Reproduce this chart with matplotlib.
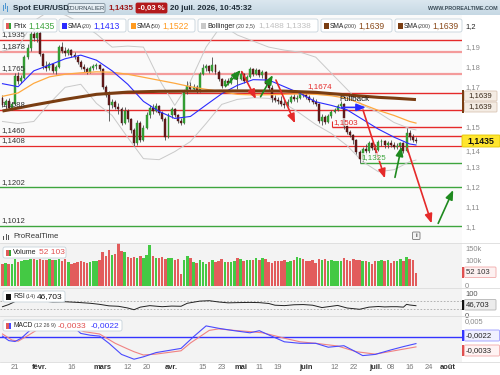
import numpy as np
import pandas as pd
import matplotlib
matplotlib.use("Agg")
import matplotlib.pyplot as plt
from matplotlib.patches import FancyBboxPatch, Rectangle

plt.rcParams['font.family'] = ['Liberation Sans', 'DejaVu Sans']

W, H = 500, 375

# --- daily candles, 15 janv. -> 20 juil. 2026 (session -4 = 15 janv., 0 = 21 janv.) ---
first_session = -4
opens = [1.1645, 1.1612, 1.1630, 1.1598, 1.1615, 1.1755, 1.1730, 1.1748, 1.1850, 1.1895,
         1.1965, 1.1945, 1.1970, 1.1865, 1.1805, 1.1795, 1.1815, 1.1780, 1.1800, 1.1900,
         1.1880, 1.1870, 1.1885, 1.1862, 1.1850, 1.1825, 1.1800, 1.1790, 1.1775, 1.1795,
         1.1805, 1.1810, 1.1790, 1.1700, 1.1660, 1.1610, 1.1625, 1.1600, 1.1590, 1.1520,
         1.1580, 1.1540, 1.1490, 1.1425, 1.1520, 1.1440, 1.1500, 1.1560, 1.1595, 1.1580,
         1.1605, 1.1570, 1.1540, 1.1455, 1.1560, 1.1590, 1.1560, 1.1530, 1.1522, 1.1675,
         1.1705, 1.1690, 1.1702, 1.1680, 1.1768, 1.1795, 1.1805, 1.1780, 1.1812, 1.1775,
         1.1740, 1.1705, 1.1730, 1.1720, 1.1748, 1.1762, 1.1740, 1.1768, 1.1730, 1.1752,
         1.1790, 1.1765, 1.1785, 1.1760, 1.1775, 1.1715, 1.1695, 1.1645, 1.1635, 1.1630,
         1.1618, 1.1610, 1.1628, 1.1652, 1.1640, 1.1648, 1.1670, 1.1660, 1.1650, 1.1635,
         1.1625, 1.1615, 1.1530, 1.1550, 1.1525, 1.1555, 1.1575, 1.1585, 1.1608, 1.1615,
         1.1505, 1.1480, 1.1462, 1.1440, 1.1380, 1.1345, 1.1395, 1.1382, 1.1425, 1.1400,
         1.1390, 1.1430, 1.1435, 1.1412, 1.1425, 1.1415, 1.1402, 1.1410, 1.1422, 1.1385,
         1.1475, 1.1452, 1.1440]
closes = [1.1612, 1.1630, 1.1598, 1.1615, 1.1755, 1.1730, 1.1748, 1.1850, 1.1895, 1.1965,
          1.1945, 1.1970, 1.1865, 1.1805, 1.1795, 1.1815, 1.1780, 1.1800, 1.1900, 1.1880,
          1.1870, 1.1885, 1.1862, 1.1850, 1.1825, 1.1800, 1.1790, 1.1775, 1.1795, 1.1805,
          1.1810, 1.1790, 1.1700, 1.1660, 1.1610, 1.1625, 1.1600, 1.1590, 1.1520, 1.1580,
          1.1540, 1.1490, 1.1425, 1.1520, 1.1440, 1.1500, 1.1560, 1.1595, 1.1580, 1.1605,
          1.1570, 1.1540, 1.1455, 1.1560, 1.1590, 1.1560, 1.1530, 1.1522, 1.1675, 1.1705,
          1.1690, 1.1702, 1.1680, 1.1768, 1.1795, 1.1805, 1.1780, 1.1812, 1.1775, 1.1740,
          1.1705, 1.1730, 1.1720, 1.1748, 1.1762, 1.1740, 1.1768, 1.1730, 1.1752, 1.1790,
          1.1765, 1.1785, 1.1760, 1.1775, 1.1715, 1.1695, 1.1645, 1.1635, 1.1630, 1.1618,
          1.1610, 1.1628, 1.1652, 1.1640, 1.1648, 1.1670, 1.1660, 1.1650, 1.1635, 1.1625,
          1.1615, 1.1530, 1.1550, 1.1525, 1.1555, 1.1575, 1.1585, 1.1608, 1.1615, 1.1505,
          1.1480, 1.1462, 1.1440, 1.1380, 1.1345, 1.1395, 1.1382, 1.1425, 1.1400, 1.1390,
          1.1430, 1.1435, 1.1412, 1.1425, 1.1415, 1.1402, 1.1410, 1.1422, 1.1385, 1.1475,
          1.1452, 1.1440, 1.1435]
highs = [1.1660, 1.1640, 1.1645, 1.1625, 1.1770, 1.1775, 1.1760, 1.1860, 1.1915, 1.1985,
         1.1990, 1.1980, 1.1980, 1.1870, 1.1830, 1.1825, 1.1820, 1.1810, 1.1910, 1.1925,
         1.1900, 1.1895, 1.1890, 1.1875, 1.1860, 1.1835, 1.1815, 1.1800, 1.1805, 1.1815,
         1.1820, 1.1815, 1.1795, 1.1710, 1.1680, 1.1640, 1.1635, 1.1620, 1.1600, 1.1600,
         1.1590, 1.1545, 1.1500, 1.1535, 1.1530, 1.1510, 1.1575, 1.1610, 1.1615, 1.1620,
         1.1610, 1.1580, 1.1550, 1.1570, 1.1600, 1.1595, 1.1565, 1.1545, 1.1685, 1.1730,
         1.1725, 1.1715, 1.1710, 1.1775, 1.1815, 1.1815, 1.1810, 1.1850, 1.1815, 1.1785,
         1.1745, 1.1740, 1.1745, 1.1755, 1.1775, 1.1765, 1.1780, 1.1770, 1.1760, 1.1800,
         1.1795, 1.1795, 1.1790, 1.1785, 1.1780, 1.1735, 1.1710, 1.1660, 1.1650, 1.1655,
         1.1640, 1.1640, 1.1660, 1.1665, 1.1660, 1.1678, 1.1680, 1.1672, 1.1662, 1.1650,
         1.1640, 1.1620, 1.1565, 1.1560, 1.1565, 1.1585, 1.1595, 1.1615, 1.1630, 1.1620,
         1.1515, 1.1490, 1.1470, 1.1445, 1.1390, 1.1405, 1.1420, 1.1435, 1.1430, 1.1420,
         1.1440, 1.1445, 1.1440, 1.1435, 1.1440, 1.1430, 1.1425, 1.1430, 1.1430, 1.1498,
         1.1490, 1.1470, 1.1455]
lows = [1.1600, 1.1590, 1.1585, 1.1585, 1.1610, 1.1715, 1.1720, 1.1740, 1.1840, 1.1880,
        1.1930, 1.1925, 1.1855, 1.1790, 1.1780, 1.1785, 1.1770, 1.1765, 1.1795, 1.1870,
        1.1855, 1.1860, 1.1850, 1.1840, 1.1815, 1.1790, 1.1775, 1.1765, 1.1770, 1.1785,
        1.1790, 1.1780, 1.1690, 1.1650, 1.1530, 1.1595, 1.1590, 1.1565, 1.1510, 1.1515,
        1.1525, 1.1475, 1.1408, 1.1415, 1.1430, 1.1435, 1.1495, 1.1545, 1.1565, 1.1575,
        1.1560, 1.1530, 1.1440, 1.1450, 1.1545, 1.1550, 1.1520, 1.1510, 1.1518, 1.1665,
        1.1680, 1.1680, 1.1670, 1.1675, 1.1760, 1.1780, 1.1770, 1.1775, 1.1765, 1.1730,
        1.1695, 1.1700, 1.1710, 1.1715, 1.1740, 1.1690, 1.1735, 1.1720, 1.1725, 1.1745,
        1.1755, 1.1760, 1.1750, 1.1745, 1.1705, 1.1685, 1.1628, 1.1625, 1.1615, 1.1605,
        1.1595, 1.1605, 1.1620, 1.1630, 1.1625, 1.1640, 1.1650, 1.1640, 1.1625, 1.1615,
        1.1605, 1.1520, 1.1510, 1.1515, 1.1520, 1.1545, 1.1570, 1.1580, 1.1598, 1.1495,
        1.1470, 1.1455, 1.1420, 1.1370, 1.1325, 1.1335, 1.1370, 1.1375, 1.1390, 1.1365,
        1.1385, 1.1410, 1.1400, 1.1400, 1.1405, 1.1395, 1.1395, 1.1385, 1.1375, 1.1380,
        1.1440, 1.1430, 1.1425]
volumes = [92, 95, 90, 93, 112, 100, 104, 110, 110, 112,
           112, 110, 112, 110, 108, 112, 110, 108, 112, 105,
           112, 100, 92, 96, 100, 105, 98, 96, 100, 102,
           104, 110, 140, 125, 150, 130, 132, 180, 145, 140,
           120, 118, 122, 115, 125, 118, 130, 170, 125, 118,
           115, 120, 112, 115, 118, 110, 112, 48, 108, 125,
           115, 100, 95, 110, 100, 92, 100, 110, 98, 102,
           112, 100, 100, 100, 106, 118, 112, 105, 108, 110,
           110, 115, 108, 118, 112, 100, 96, 105, 102, 105,
           110, 100, 104, 108, 120, 118, 112, 104, 104, 108,
           95, 112, 108, 112, 104, 110, 105, 104, 105, 118,
           108, 104, 112, 110, 108, 106, 106, 100, 92, 102,
           102, 108, 104, 108, 94, 102, 102, 112, 106, 120,
           114, 110, 52.1]  # thousands

# --- indicators, one reading every 5 sessions ---
ind_idx = [-4, 1, 6, 11, 16, 21, 26, 31, 36, 41, 46, 51, 56, 61, 66, 71, 76, 81, 86, 91,
           96, 101, 106, 111, 116, 121, 126, 128]
sma20 = [1.1718, 1.1703, 1.1782, 1.1811, 1.1842, 1.1860, 1.1835, 1.1782, 1.1715, 1.1630,
         1.1580, 1.1545, 1.1555, 1.1612, 1.1668, 1.1710, 1.1738, 1.1736, 1.1703, 1.1670,
         1.1628, 1.1610, 1.1588, 1.1540, 1.1492, 1.1452, 1.1418, 1.1413]
sma50 = [1.1655, 1.1672, 1.1720, 1.1752, 1.1765, 1.1772, 1.1777, 1.1775, 1.1765, 1.1750,
         1.1735, 1.1720, 1.1703, 1.1690, 1.1678, 1.1665, 1.1662, 1.1663, 1.1665, 1.1668,
         1.1665, 1.1658, 1.1645, 1.1615, 1.1585, 1.1560, 1.1530, 1.1522]
bb_up = [1.1880, 1.1900, 1.2030, 1.2080, 1.2060, 1.2020, 1.1965, 1.1900, 1.1905, 1.1900,
         1.1740, 1.1610, 1.1730, 1.1900, 1.2010, 1.1960, 1.1930, 1.1900, 1.1885, 1.1875,
         1.1850, 1.1770, 1.1690, 1.1610, 1.1575, 1.1525, 1.1495, 1.1488]
bb_lo = [1.1530, 1.1520, 1.1530, 1.1620, 1.1700, 1.1715, 1.1620, 1.1560, 1.1450, 1.1345,
         1.1340, 1.1380, 1.1430, 1.1520, 1.1615, 1.1640, 1.1648, 1.1645, 1.1620, 1.1570,
         1.1515, 1.1470, 1.1410, 1.1330, 1.1280, 1.1290, 1.1330, 1.1338]
sma200_idx = [-4, 6, 16, 26, 36, 46, 56, 66, 76, 86, 96, 106, 116, 121, 128]
sma200 = [1.1582, 1.1612, 1.1640, 1.1665, 1.1676, 1.1680, 1.1681, 1.1682, 1.1682, 1.1681,
          1.1675, 1.1662, 1.1650, 1.1646, 1.1639]

rsi_idx = [-4, -2, 0, 4, 8, 12, 16, 20, 24, 27, 30, 33, 36, 38, 40, 43, 47, 50, 53, 55,
           59, 62, 65, 68, 71, 75, 78, 81, 83, 86, 89, 92, 95, 98, 101, 103, 106, 108, 110,
           113, 116, 118, 120, 122, 124, 125, 126, 128]
rsi = [42, 52, 66, 74, 70, 64, 65, 62, 58, 53, 46, 44, 36, 28, 40, 47, 42, 45, 44, 58,
       68, 70, 64, 60, 61, 62, 61, 57, 49, 47, 51, 52, 49, 38, 44, 48, 36, 33, 30,
       40, 43, 41, 42, 42, 40, 53, 50, 46.7]

macd_idx = [-4, -2, 0, 2, 6, 10, 14, 18, 21, 24, 27, 30, 34, 38, 41, 45, 49, 53, 57, 61,
            65, 70, 75, 78, 81, 86, 91, 96, 100, 105, 108, 111, 115, 120, 124, 128]
macd = [0.0003, -0.0012, -0.0015, -0.0004, 0.0034, 0.0050, 0.0052, 0.0040, 0.0012, 0.0006,
        0.0003, -0.0021, -0.0058, -0.0074, -0.0066, -0.0052, -0.0045, -0.0038, 0.0001, 0.0037,
        0.0029, 0.0021, 0.0014, 0.0021, 0.0007, -0.0016, -0.0021, -0.0021, -0.0034, -0.0029,
        -0.0045, -0.0062, -0.0058, -0.0043, -0.0032, -0.0022]
signal_idx = [-4, -1, 1, 4, 8, 12, 16, 19, 22, 27, 32, 36, 38, 41, 45, 50, 53, 56, 59, 62,
              65, 70, 75, 79, 83, 86, 91, 96, 103, 109, 115, 121, 128]
signal = [0.0010, -0.0010, -0.0014, 0.0004, 0.0030, 0.0045, 0.0042, 0.0030, 0.0018, 0.0010,
          -0.0021, -0.0040, -0.0049, -0.0060, -0.0057, -0.0050, -0.0046, -0.0020, 0.0001, 0.0022,
          0.0027, 0.0022, 0.0018, 0.0014, 0.0004, -0.0004, -0.0016, -0.0021, -0.0030, -0.0049,
          -0.0057, -0.0046, -0.0033]

# --- drawn levels and annotations ---
levels = [1.1935, 1.1878, 1.1765, 1.1588, 1.1460, 1.1408, 1.1202, 1.1012]
level_labels = ['1,1935', '1,1878', '1,1765', '1,1588', '1,1460', '1,1408', '1,1202', '1,1012']
level_colors = ['#e52a2a', '#f49b9b', '#f49b9b', '#e52a2a', '#e52a2a', '#e52a2a', '#3ea53e', '#3ea53e']
level_widths = [1.0, 1.6, 1.6, 1.0, 1.0, 0.9, 1.0, 1.0]
# (price, first session, colour, label, label session, label price)
short_levels = [(1.1674, 30, '#e52a2a', '1,1674', 93.5, 1.1706),
                (1.1503, 101.2, '#e52a2a', '1,1503', 101.8, 1.1527),
                (1.1325, 110.1, '#3ea53e', '1,1325', 110.7, 1.1353)]
# (from session, from price, to session, to price, colour)
arrows = [(67.3, 1.1706, 72.1, 1.1786, '#1f8a1f'),
          (72.4, 1.1778, 76.9, 1.1642, '#e52a2a'),
          (78.4, 1.1653, 82.3, 1.1761, '#1f8a1f'),
          (83.3, 1.1736, 89.4, 1.1521, '#e52a2a'),
          (111.1, 1.1587, 118.1, 1.1247, '#e52a2a'),
          (121.3, 1.1252, 123.4, 1.1405, '#1f8a1f'),
          (125.2, 1.1397, 133.0, 1.1023, '#e52a2a'),
          (135.1, 1.1023, 139.9, 1.1189, '#1f8a1f'),
          (104.4, 1.1600, 112.0, 1.1600, '#2a2aff')]

price_ticks = [1.2, 1.19, 1.18, 1.17, 1.15, 1.14, 1.13, 1.12, 1.11, 1.1]

tick_dates = ['2026-01-21', '2026-02-02', '2026-02-16', '2026-03-02', '2026-03-12', '2026-03-20',
              '2026-04-01', '2026-04-15', '2026-04-23', '2026-05-01', '2026-05-11', '2026-05-19',
              '2026-06-01', '2026-06-12', '2026-06-22', '2026-07-01', '2026-07-08', '2026-07-16',
              '2026-07-24', '2026-08-03']
tick_labels = ['21', 'févr.', '16', 'mars', '12', '20', 'avr.', '15', '23', 'mai', '11', '19',
               'juin', '12', '22', 'juil.', '08', '16', '24', 'août']
month_labels = {'févr.', 'mars', 'avr.', 'mai', 'juin', 'juil.', 'août'}

sessions = pd.bdate_range('2026-01-15', '2026-08-31')
tick_idx = sessions.get_indexer(pd.to_datetime(tick_dates)) + first_session

# --- figure ---
fig = plt.figure(figsize=(5, 3.75), dpi=100)
fig.patch.set_facecolor('white')


def rect(x0, y0, x1, y1):
    return [x0 / W, 1 - y1 / H, (x1 - x0) / W, (y1 - y0) / H]


ax = fig.add_axes(rect(0, 15, 462, 243))
axv = fig.add_axes(rect(0, 243, 462, 288))
axr = fig.add_axes(rect(0, 288, 462, 316))
axm = fig.add_axes(rect(0, 316, 462, 362))
for a, bg in ((ax, '#fafafa'), (axv, '#f3f3f3'), (axr, '#f3f3f3'), (axm, '#f3f3f3')):
    a.set_facecolor(bg)
    a.set_xlim(-4.79, 142.7)
    a.set_xticks([])
    a.set_yticks([])
    for s in a.spines.values():
        s.set_visible(False)

ax.set_ylim(1.09254, 1.20597)
axv.set_ylim(-8.3, 179)
axr.set_ylim(-1.2, 129)
axm.set_ylim(-0.00833, 0.0070)

x = np.arange(first_session, first_session + len(closes))
o, h, l, c = map(np.array, (opens, highs, lows, closes))
up = c >= o

# levels
for p, col, lw in zip(levels, level_colors, level_widths):
    ax.axhline(p, color=col, lw=lw, zorder=2)
for p, start, col, lab, lx, ly in short_levels:
    ax.hlines(p, start, 142.7, color=col, lw=1.0, zorder=2)
    ax.text(lx, ly, lab, color=col, fontsize=5.8, va='center', ha='left', zorder=7,
            bbox=dict(fc='#fafafa', ec='none', pad=0.3, alpha=0.7))
ax.vlines(101.2, 1.1503, 1.1530, color='#e52a2a', lw=0.8, zorder=2)
for p, lab in zip(levels, level_labels):
    ax.text(0.004, p + 0.0009, lab, transform=ax.get_yaxis_transform(), fontsize=5.6,
            color='#333333', va='bottom', ha='left', zorder=7)

# bollinger and averages
ax.plot(ind_idx, bb_up, color='#c9c9c9', lw=0.7, zorder=2.5)
ax.plot(ind_idx, bb_lo, color='#c9c9c9', lw=0.7, zorder=2.5)

# candles
ax.vlines(x, l, h, color='#4a4a4a', lw=0.6, zorder=3)
ax.bar(x, np.maximum(np.abs(c - o), 0.00012), bottom=np.minimum(o, c), width=0.62,
       color=np.where(up, '#36a336', '#6a1c1c'), edgecolor=np.where(up, '#2b8a2b', '#3d1010'),
       lw=0.3, zorder=4)

ax.plot(ind_idx, sma50, color='#ffa940', lw=0.9, zorder=5)
ax.plot(ind_idx, sma20, color='#2b2bff', lw=0.8, zorder=5)
ax.plot(sma200_idx, sma200, color='#7a3d12', lw=2.2, zorder=5, solid_capstyle='butt')

for x0, y0, x1, y1, col in arrows:
    ax.annotate('', xy=(x1, y1), xytext=(x0, y0), zorder=6,
                arrowprops=dict(arrowstyle='-|>,head_length=0.55,head_width=0.22', color=col,
                                lw=1.2, shrinkA=0, shrinkB=0))
ax.text(103.7, 1.1637, 'Pullback', fontsize=5.8, color='#111111', ha='left', va='center', zorder=7)

# right price scale (1,14 sits just under the last-price tag)
for p in price_ticks:
    lab = ('%g' % p).replace('.', ',')
    ax.text(1.0065, p, lab, transform=ax.get_yaxis_transform(), fontsize=5.4,
            color='#222222' if p == 1.2 else '#8a8a8a', ha='left', clip_on=False,
            va='top' if p == 1.14 else 'center')

# volume
axv.bar(x, volumes, width=0.8, color=np.where(up, '#44c944', '#e25c5c'), zorder=3)
for v, lab in ((150, '150k'), (100, '100k'), (-1, '0')):
    axv.text(1.0065, v, lab, transform=axv.get_yaxis_transform(), fontsize=5.4, color='#8a8a8a',
             va='center', ha='left', clip_on=False)

# rsi
for lvl in (70, 30):
    axr.axhline(lvl, color='#a8a8a8', lw=0.6, ls=(0, (2, 2)), zorder=2)
axr.plot(rsi_idx, rsi, color='#222222', lw=0.7, zorder=3)
for v, lab in ((100, '100'), (-2, '0')):
    axr.text(1.0065, v, lab, transform=axr.get_yaxis_transform(), fontsize=5.4, color='#555555',
             va='center', ha='left', clip_on=False)

# macd
axm.axhline(0, color='#3434ff', lw=1.0, zorder=2)
axm.plot(signal_idx, signal, color='#f08282', lw=0.8, zorder=3)
axm.plot(macd_idx, macd, color='#4a4aff', lw=0.8, zorder=3)
axm.text(1.0065, 0.005, '0,005', transform=axm.get_yaxis_transform(), fontsize=5.4,
         color='#8a8a8a', va='center', ha='left', clip_on=False)

# date axis
for ti, lab in zip(tick_idx, tick_labels):
    bold = lab in month_labels
    axm.text(ti, -0.13, lab, transform=axm.get_xaxis_transform(), fontsize=5.4,
             color='#333333' if bold else '#777777', fontweight='bold' if bold else 'normal',
             ha='center', va='center', clip_on=False)

# --- overlay in pixel units: header, legends, value tags ---
ov = fig.add_axes([0, 0, 1, 1], zorder=10)
ov.axis('off')


def box(x0, y0, x1, y1, fc='white', ec='#c6d3db', lw=0.6, r=2.0, alpha=1.0):
    ov.add_patch(FancyBboxPatch((x0, y0), x1 - x0, y1 - y0, boxstyle='round,pad=0,rounding_size=%s' % r,
                                fc=fc, ec=ec, lw=lw, alpha=alpha, zorder=11))


def txt(x0, y0, s, size=5.5, color='#222222', weight='normal', ha='left'):
    ov.text(x0, y0, s, fontsize=size, color=color, fontweight=weight, ha=ha, va='center', zorder=12)


def icon(x0, y0, c1, c2=None):
    c2 = c2 or c1
    ov.add_patch(Rectangle((x0, y0), 2.5, 6, fc=c1, ec='none', zorder=12))
    ov.add_patch(Rectangle((x0 + 2.5, y0), 2.5, 6, fc=c2, ec='none', zorder=12))


# header band
grad = np.linspace(0, 1, 30).reshape(-1, 1)
ov.imshow(grad, extent=(0, W, 15, 0), aspect='auto', zorder=10.5,
          cmap=matplotlib.colors.LinearSegmentedColormap.from_list('hdr', ['#dbe7ef', '#c6d8e4']))
ov.set_xlim(0, W)
ov.set_ylim(H, 0)
for bx, by in ((2.5, 5), (4.5, 3), (6.5, 6)):
    ov.add_patch(Rectangle((bx, by), 1.2, 6, fc='#4f96d0', ec='none', zorder=12))
txt(13, 8, 'Spot EUR/USD', 5.8, '#1d2b36', 'bold')
box(68, 3.5, 105, 12.5, fc='#e5edf3', ec='#7d8d99', lw=0.6, r=1.5)
txt(86.5, 8, 'JOURNALIER', 4.2, '#3a4a56', ha='center')
txt(109, 8, '1,1435', 5.9, '#9e1b1b', 'bold')
box(136, 3, 167, 13, fc='#b3191b', ec='#b3191b', r=1.5)
txt(151.5, 8, '-0,03 %', 5.6, 'white', 'bold', ha='center')
txt(170, 8, '20 juil. 2026, 10:45:32', 5.8, '#1d2b36', 'bold')
txt(498, 9, 'WWW.PROREALTIME.COM', 3.9, '#3b4c58', 'bold', ha='right')

# legend row
box(3, 19, 57, 32)
icon(6, 22.5, '#e25c5c', '#36a336')
txt(13, 26, 'Prix', 5.5)
txt(28, 26, '1,1435', 6.2, '#3ea53e')
for x0, x1, col, name, per, val in ((59, 126, '#2b2bff', 'SMA', '(20)', '1,1413'),
                                    (128, 195, '#ff9a1f', 'SMA', '(50)', '1,1522'),
                                    (321, 392, '#7a3d12', 'SMA', '(200)', '1,1639'),
                                    (395, 462, '#7a3d12', 'SMA', '(200)', '1,1639')):
    box(x0, 19, x1, 32)
    icon(x0 + 2.5, 22.5, col)
    txt(x0 + 8.5, 26, name, 4.8)
    txt(x0 + 23, 26.3, per, 4.0, '#444444')
    txt(x0 + (37 if per == '(200)' else 34), 26, val, 6.2, '#8a4a1a' if col == '#7a3d12' else col)
box(198, 19, 318, 32)
icon(200.5, 22.5, '#c8c8c8')
txt(207, 26, 'Bollinger', 5.0)
txt(236, 26.3, '(20 2,5)', 4.0, '#444444')
txt(258, 26, '1,1488', 6.0, '#c0c0c0')
txt(285, 26, '1,1338', 6.0, '#c0c0c0')

# price tags on the right scale
ov.add_patch(Rectangle((462, 90), 2.2, 23, fc='#7a3d12', ec='none', zorder=11))
box(464.5, 91, 497, 101, fc='#f4ece4', ec='#d9c4b4', r=1)
box(464.5, 102, 497, 112, fc='#f4ece4', ec='#d9c4b4', r=1)
txt(480.5, 96, '1,1639', 5.6, '#3a2a1a', ha='center')
txt(480.5, 107, '1,1639', 5.6, '#3a2a1a', ha='center')
box(462, 135, 500, 147, fc='#ffe52e', ec='#e0c400', r=1)
txt(481, 141, '1,1435', 6.3, '#111111', 'bold', ha='center')

# lower panel legends and tags
txt(13, 237, 'ProRealTime', 5.6, '#333333')
for bx, bh in ((3, 4), (5.5, 6), (8, 5)):
    ov.add_patch(Rectangle((bx, 240 - bh), 1.2, bh, fc='#555555', ec='none', zorder=12))
box(412.5, 232, 420, 239.5, fc='#f3f3f3', ec='#777777', lw=0.6, r=1)
txt(416.2, 235.8, 'i', 4.5, '#444444', 'bold', ha='center')

box(3, 247, 66, 258)
icon(6, 249.5, '#e25c5c', '#36a336')
txt(13, 252.5, 'Volume', 5.0)
txt(39, 252.5, '52 103', 6.0, '#e05050')
ov.add_patch(Rectangle((462, 267), 2.2, 10.5, fc='#e05050', ec='none', zorder=11))
box(464.5, 267, 496, 277.5, fc='#fdf1f1', ec='#f1a9a9', r=1)
txt(466, 272.3, '52 103', 5.6, '#333333')

box(3, 291, 65, 302)
icon(6, 293.5, '#111111')
txt(13, 296.5, 'RSI', 5.0)
txt(25.5, 296.8, '(14)', 4.0, '#444444')
txt(37, 296.5, '46,703', 6.0, '#111111')
ov.add_patch(Rectangle((462, 299.5), 2.2, 10.5, fc='#111111', ec='none', zorder=11))
box(464.5, 299.5, 496, 310, fc='#ececec', ec='#b5b5b5', r=1)
txt(466, 304.8, '46,703', 5.6, '#222222')

box(3, 320, 122, 331)
icon(6, 322.5, '#e25c5c', '#4a4aff')
txt(13, 325.5, 'MACD', 4.8)
txt(33.5, 325.8, '(12 26 9)', 4.0, '#444444')
txt(58, 325.5, '-0,0033', 6.0, '#e05050')
txt(91, 325.5, '-0,0022', 6.0, '#3434ff')
ov.add_patch(Rectangle((462, 330), 2.2, 11, fc='#3434ff', ec='none', zorder=11))
box(464.5, 330, 499.5, 341, fc='#f0f0ff', ec='#9a9aff', r=1)
txt(466, 335.5, '-0,0022', 5.6, '#222222')
ov.add_patch(Rectangle((462, 345), 2.2, 11, fc='#e05050', ec='none', zorder=11))
box(464.5, 345, 499.5, 356, fc='#fff3f3', ec='#f1a9a9', r=1)
txt(466, 350.5, '-0,0033', 5.6, '#222222')

# panel separators
for yy in (243, 288, 316, 362):
    ov.plot([0, 500], [yy, yy], color='#dcdcdc', lw=0.6, zorder=10.8)

fig.savefig('out.png', dpi=100)
